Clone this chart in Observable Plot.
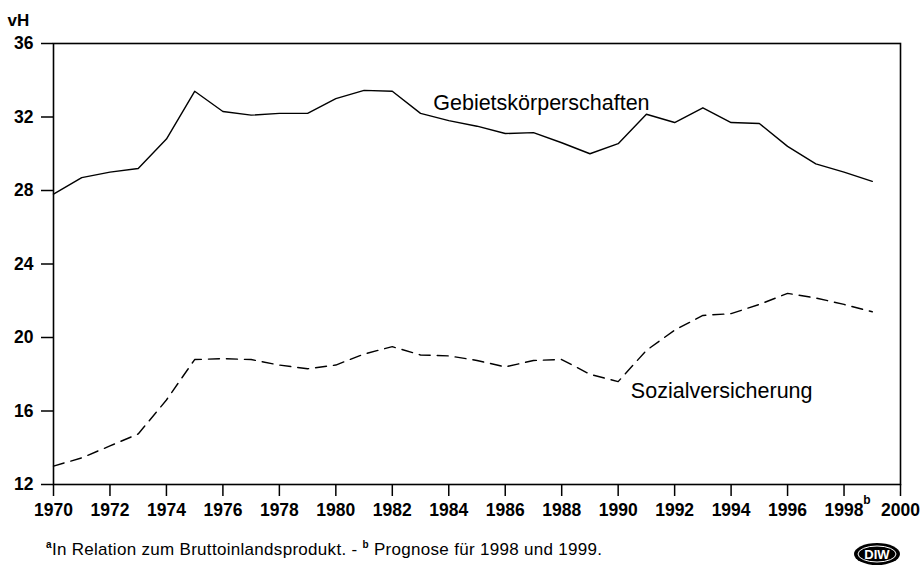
<!DOCTYPE html>
<html>
<head>
<meta charset="utf-8">
<script src="https://cdn.jsdelivr.net/npm/d3@7"></script>
<script src="https://cdn.jsdelivr.net/npm/@observablehq/plot@0.6"></script>
<style>
  html, body { margin: 0; padding: 0; background: #fff; }
  #wrap { position: relative; width: 923px; height: 569px; overflow: hidden; background: #fff;
          font-family: "Liberation Sans", Arial, Helvetica, sans-serif; color: #000; }
  #chart { position: absolute; left: 0; top: 0; }
  #foot { position: absolute; left: 46px; top: 540px; font-size: 17px; white-space: nowrap; letter-spacing: 0.3px; }
  #foot sup { font-size: 10px; font-weight: bold; vertical-align: 0; position: relative; top: -7px; }
  #logo { position: absolute; left: 852px; top: 541px; }
</style>
</head>
<body>
<div id="wrap">
  <div id="chart"></div>
  <div id="foot"><sup>a</sup>In Relation zum Bruttoinlandsprodukt. - <sup>b</sup> Prognose für 1998 und 1999.</div>
  <svg id="logo" width="50" height="26" viewBox="0 0 50 26">
    <ellipse cx="25" cy="13" rx="23" ry="11" fill="#000"/>
    <ellipse cx="25" cy="13" rx="19" ry="8" fill="none" stroke="#fff" stroke-width="1"/>
    <text x="25" y="17.5" text-anchor="middle" font-family="Liberation Sans, Arial" font-weight="bold" font-size="13" fill="#fff">DIW</text>
  </svg>
</div>
<script>
const years = [1970,1971,1972,1973,1974,1975,1976,1977,1978,1979,
               1980,1981,1982,1983,1984,1985,1986,1987,1988,1989,
               1990,1991,1992,1993,1994,1995,1996,1997,1998,1999];
const gebietskoerperschaften = [27.8,28.7,29.0,29.2,30.8,33.4,32.3,32.1,32.2,32.2,
                                33.0,33.45,33.4,32.2,31.8,31.5,31.1,31.15,30.6,30.0,
                                30.55,32.15,31.7,32.5,31.7,31.65,30.4,29.45,29.0,28.5];
const sozialversicherung = [13.0,13.45,14.1,14.75,16.6,18.8,18.85,18.8,18.5,18.3,
                            18.5,19.1,19.5,19.05,19.0,18.75,18.4,18.75,18.8,18.0,
                            17.6,19.3,20.4,21.2,21.3,21.8,22.4,22.15,21.8,21.4];
const xTicks = [1970,1972,1974,1976,1978,1980,1982,1984,1986,1988,1990,1992,1994,1996,1998,2000];
const yTicks = [12,16,20,24,28,32,36];
const seriesLabels = [
  {year: 1983.45, value: 32.75, text: "Gebietskörperschaften"},
  {year: 1990.45, value: 17.1, text: "Sozialversicherung"}
];
const unitLabel = "vH";
const forecastMark = "b";

const gData = years.map((y, i) => ({year: y, value: gebietskoerperschaften[i]}));
const sData = years.map((y, i) => ({year: y, value: sozialversicherung[i]}));

const font = '"Liberation Sans", Arial, Helvetica, sans-serif';

const chart = Plot.plot({
  width: 923,
  height: 515,
  marginLeft: 53,
  marginRight: 23,
  marginTop: 43,
  marginBottom: 31,
  style: {fontFamily: font, background: "#fff", color: "#000", overflow: "visible"},
  x: {domain: [1970, 2000]},
  y: {domain: [12, 36]},
  marks: [
    Plot.axisX({ticks: xTicks, tickFormat: "d", tickSize: 12, tickPadding: 7, fontSize: 17.5, fontWeight: "bold", strokeWidth: 1.5, label: null}),
    Plot.axisY({ticks: yTicks, tickSize: 12, tickPadding: 8, fontSize: 17.5, fontWeight: "bold", strokeWidth: 1.5, label: null}),
    Plot.frame({stroke: "#000", strokeWidth: 1.6}),
    Plot.line(gData, {x: "year", y: "value", stroke: "#000", strokeWidth: 1.4}),
    Plot.line(sData, {x: "year", y: "value", stroke: "#000", strokeWidth: 1.4, strokeDasharray: "11,7"}),
    Plot.text(seriesLabels, {x: "year", y: "value", text: "text", textAnchor: "start", fontSize: 21.5, fill: "#000"}),
    Plot.text([unitLabel], {frameAnchor: "top-left", dx: -46, dy: -18, lineAnchor: "bottom", textAnchor: "start", fontSize: 17, fontWeight: "bold", fill: "#000"}),
    Plot.text([{year: 1998, value: 12}], {x: "year", y: "value", text: () => forecastMark, dx: 23, dy: 16, fontSize: 12, fontWeight: "bold", fill: "#000"})
  ]
});
document.getElementById("chart").appendChild(chart);
</script>
</body>
</html>
